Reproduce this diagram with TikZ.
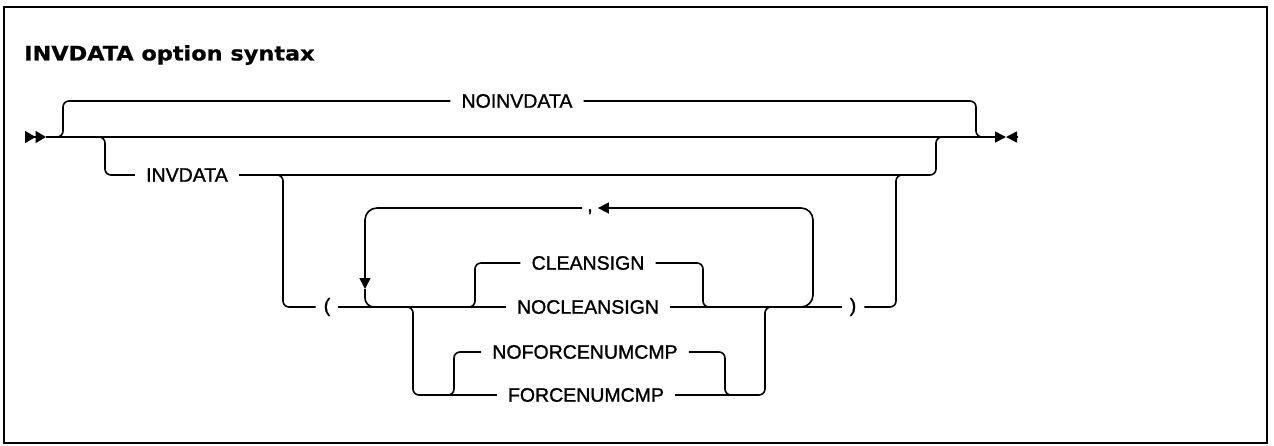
\documentclass[tikz,border=0pt]{standalone}
\usepackage{fontspec}
\setmainfont{Liberation Sans}
\newfontfamily\railfont[FakeBold=1.2]{Liberation Sans}
\newfontfamily\titlefont[FakeStretch=1.12,FakeBold=0.8]{DejaVu Sans}
\usetikzlibrary{arrows.meta}

\tikzset{
  rail/.style={line width=1.6pt, rounded corners=6pt},
  looprail/.style={line width=1.6pt, rounded corners=12pt},
  kw/.style={inner xsep=11pt, inner ysep=0pt, font=\railfont\fontsize{19.5}{23}\selectfont},
  tip/.style={-{Triangle[length=11pt,width=11pt]}},
}

\begin{document}
\begin{tikzpicture}[x=1pt,y=-1pt]
\useasboundingbox (0,0) rectangle (1274,445);
\draw[line width=2pt] (4,7) rectangle (1267,443);
\node[anchor=west, inner sep=0pt, font=\titlefont\bfseries\fontsize{20}{24}\selectfont] (title) at (24,55) {INVDATA option syntax};

% keywords
\node[kw] (noinv) at (517,101) {NOINVDATA};
\node[kw] (inv) at (187,175) {INVDATA};
\node[kw, inner xsep=5pt, text height=7pt, text depth=0pt] (comma) at (590,208) {,};
\node[kw, inner xsep=8pt] (lp) at (327,307) {(};
\node[kw, inner xsep=8pt] (rp) at (853,307) {)};
\node[kw] (cs) at (588,263) {CLEANSIGN};
\node[kw] (ncs) at (588,307) {NOCLEANSIGN};
\node[kw] (nfc) at (585,352) {NOFORCENUMCMP};
\node[kw] (fc) at (586,395) {FORCENUMCMP};

% main line, start and end marks
\coordinate (st) at (25,137);
\coordinate (m0) at (46,137);
\coordinate (en) at (1006,137);
\coordinate (ee) at (1017,137);
\draw[line width=1.6pt, -{Triangle[length=10.5pt,width=12pt] Triangle[length=10.5pt,width=12pt]}] (st) -- (m0);
\draw[line width=1.6pt, tip] (m0) -- (en);
\draw[line width=1.6pt, tip] (ee) -- (en);

% branch and join points
\coordinate (b1) at (51,137);
\coordinate (j1) at (988,137);
\coordinate (b2) at (92,137);
\coordinate (j2) at (948,137);
\coordinate (b3) at (271,175);
\coordinate (j3) at (908,175);
\coordinate (b4) at (462,307);
\coordinate (j4) at (715,307);
\coordinate (b5) at (400,307);
\coordinate (j5) at (776,307);
\coordinate (b6) at (442,395);
\coordinate (j6) at (737,395);
\coordinate (j7) at (796,307);
\coordinate (lk) at (365,289);
\coordinate (j8) at (380,307);

% NOINVDATA / INVDATA
\draw[rail] (b1) -- ++(12,0) |- (noinv.west);
\draw[rail] (j1) -- ++(-12,0) |- (noinv.east);
\draw[rail] (b2) -- ++(13,0) |- (inv.west);
\draw[rail] (j2) -- ++(-12,0) |- (inv.east);

% parenthesised list
\draw[rail] (b3) -- ++(12,0) |- (lp.west);
\draw[rail] (j3) -- ++(-12,0) |- (rp.east);
\draw[rail] (lp.east) -- (ncs.west);
\draw[rail] (ncs.east) -- (rp.west);
\draw[rail] (b4) -- ++(13,0) |- (cs.west);
\draw[rail] (j4) -- ++(-12,0) |- (cs.east);
\draw[rail] (b5) -- ++(13,0) |- (fc.west);
\draw[rail] (j5) -- ++(-11,0) |- (fc.east);
\draw[rail] (b6) -- ++(12,0) |- (nfc.west);
\draw[rail] (j6) -- ++(-12,0) |- (nfc.east);

% repeat loop
\draw[looprail, tip] (j7) -- ++(17,0) |- (comma.east);
\draw[looprail, tip] (comma.west) -| (lk);
\draw[rail, rounded corners=9pt] (lk) |- (j8);
\end{tikzpicture}
\end{document}
